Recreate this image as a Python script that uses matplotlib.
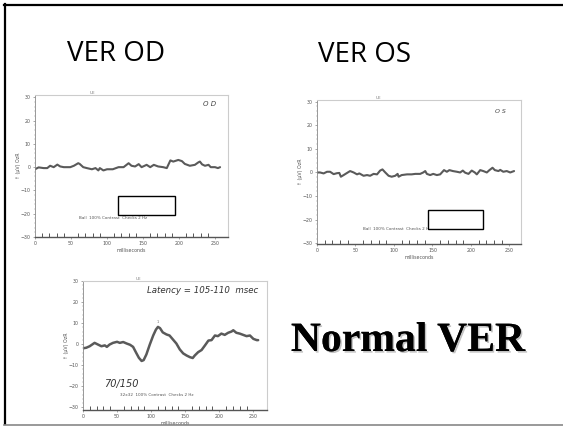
import matplotlib
matplotlib.use("Agg")
import matplotlib.pyplot as plt
from matplotlib.patches import Rectangle
from matplotlib.lines import Line2D
import matplotlib.patheffects as pe
import numpy as np

W, H = 563, 426

# VER OD trace (ms, uV)
od_t = [0, 5, 12, 17, 21, 26, 31, 35, 40, 44, 49, 54, 60, 62, 67, 72, 79, 84, 88, 90, 95, 100,
        108, 116, 123, 130, 134, 139, 144, 148, 155, 160, 165, 171, 178, 183, 188, 192, 199,
        204, 208, 215, 222, 227, 229, 232, 236, 241, 244, 250, 254, 257]
od_v = [-0.9, -0.1, -0.4, -0.4, 0.6, 0.0, 1.1, 0.3, 0.0, 0.0, 0.0, 0.6, 1.7, 1.4, 0.0, -0.4,
        -0.9, -0.4, -1.4, -0.4, -1.4, -0.9, -0.9, 0.0, 0.0, 1.7, 0.6, 0.3, 1.3, 0.0, 1.0, 0.0,
        1.0, 0.3, 0.0, -0.4, 2.9, 2.4, 3.1, 2.6, 1.4, 0.6, 1.0, 2.1, 2.4, 1.2, 0.6, 1.0, 0.0,
        0.0, -0.4, 0.0]

# VER OS trace
os_t = [0, 4, 8.6, 13, 17, 21.6, 26, 29, 31, 34.6, 40, 43, 47.6, 52, 55, 60.5, 65, 69, 73.5,
        78, 82, 85, 88.7, 93, 97, 101.6, 104.7, 106, 110, 117, 123, 127.6, 134, 138, 140.6,
        142.7, 147, 151, 155.7, 160, 165, 168.7, 172, 176.5, 181.7, 186, 189.4, 192.5, 196.8,
        201, 205, 207.6, 212, 216, 220.6, 224, 228, 231, 235.7, 238, 242, 246.5, 251, 256]
os_v = [0.0, 0.0, -0.4, 0.3, 0.3, -0.7, -0.3, -0.2, -1.8, -1.1, 0.0, 0.6, 0.0, -0.8, -0.4,
        -1.4, -1.1, -1.4, -0.6, -0.8, 0.8, 1.3, 0.0, -1.4, -1.8, -1.4, -0.6, -1.8, -1.1, -0.8,
        -0.8, -0.6, -0.6, 0.0, 0.6, -0.6, -1.1, -0.6, -1.1, -0.8, 1.0, 0.3, 1.0, 0.6, 0.3, 0.0,
        0.8, -0.1, -0.6, 0.8, 0.0, -0.8, 1.0, 0.6, 0.0, 1.0, 2.0, 1.0, 0.6, 1.1, 0.3, 0.6, 0.0,
        0.6]

# normal VER trace
nv_t = [0, 4.9, 9.8, 17, 22, 27, 32, 35, 39, 44, 50, 54, 59, 64, 69, 73.5, 78, 82, 86, 89,
        93, 98, 103, 107, 110, 113, 117, 122.5, 127, 132, 137, 142, 147, 152, 157, 161, 164,
        169, 174, 179, 184, 188.6, 193.6, 198, 203, 208, 213, 218, 220.5, 225, 230, 235, 240,
        245, 250, 255, 257]
nv_v = [-2.0, -1.7, -1.0, 0.6, -0.2, -1.0, -0.6, -1.3, -0.2, 0.6, 1.1, 0.6, 1.0, 0.3, -0.3,
        -1.3, -4.1, -6.5, -8.0, -7.6, -4.9, -0.2, 4.1, 6.9, 8.2, 7.6, 5.6, 4.6, 4.1, 2.2, 0.3,
        -2.5, -4.4, -5.4, -6.2, -6.6, -5.4, -3.8, -2.8, -0.6, 1.7, 1.9, 4.1, 3.8, 5.0, 4.4, 5.4,
        6.0, 6.6, 5.4, 5.0, 4.4, 3.8, 4.1, 2.5, 1.9, 1.9]

x_ticks = [0, 50, 100, 150, 200, 250]
y_ticks = [-30, -20, -10, 0, 10, 20, 30]

fig = plt.figure(figsize=(W / 100, H / 100), dpi=100)
fig.patch.set_facecolor("white")


def add_ax(left, top, right, bottom):
    return fig.add_axes([left / W, 1 - bottom / H, (right - left) / W, (bottom - top) / H])


def scan_chart(ax, t, v, xmax, ylim, stim, lw=1.5):
    ax.plot(t, v, color="#5a5a5a", lw=lw, solid_capstyle="round", solid_joinstyle="round")
    ax.set_xlim(0, xmax)
    ax.set_ylim(*ylim)
    ax.set_xticks(x_ticks)
    ax.set_yticks(y_ticks)
    ax.set_xticks(np.arange(0, 260, 10), minor=True)
    ax.set_yticks(np.arange(-30, 31, 2), minor=True)
    ax.tick_params(labelsize=3.4, labelcolor="#555555", length=1.5, width=0.4, pad=1.5, color="#666666")
    ax.tick_params(axis="x", which="minor", direction="in", length=3, width=0.7, color="#555555")
    ax.tick_params(axis="y", which="minor", direction="out", length=1, width=0.3, color="#888888")
    ax.spines["left"].set_color("#888888")
    ax.spines["left"].set_linewidth(0.6)
    ax.spines["bottom"].set_color("#555555")
    ax.spines["bottom"].set_linewidth(1.0)
    for s in ["top", "right"]:
        ax.spines[s].set_color("#cccccc")
        ax.spines[s].set_linewidth(0.8)
    ax.set_xlabel("milliseconds", fontsize=3.4, color="#555555", labelpad=1)
    ax.set_ylabel("↑ (μV) OzR", fontsize=3.4, color="#555555", labelpad=0)
    ax.text(0.3, 1.01, "UE", transform=ax.transAxes, fontsize=3, color="#777777", ha="center")
    ax.text(0.43, -24, stim, fontsize=3, color="#555555", ha="center", va="center")


# VER OD
ax1 = add_ax(35, 95, 228, 237)
scan_chart(ax1, od_t, od_v, 268, (-30, 31), "Ball  100% Contrast  Checks 2 Hz")
ax1.texts[-1].set_position((108, -22))
ax1.text(243, 27, "O D", fontsize=5, color="#444444", ha="center", va="center", style="italic")
ax1.add_patch(Rectangle((115, -20.4), 79, 8.1, facecolor="white", edgecolor="black", lw=1, zorder=5))

# VER OS
ax2 = add_ax(317, 100, 521, 244)
scan_chart(ax2, os_t, os_v, 265, (-30.3, 30.7), "Ball  100% Contrast  Checks 2 Hz")
ax2.texts[-1].set_position((104, -24))
ax2.text(238, 26, "O S", fontsize=4.5, color="#444444", ha="center", va="center", style="italic")
ax2.add_patch(Rectangle((143.6, -24), 72.4, 8.1, facecolor="white", edgecolor="black", lw=1, zorder=5))

# normal VER
ax3 = add_ax(83, 281, 267, 410)
scan_chart(ax3, nv_t, nv_v, 270, (-31.3, 30), "32x32  100% Contrast  Checks 2 Hz", lw=1.8)
ax3.texts[-1].set_position((108, -24))
ax3.text(176, 25.6, "Latency = 105-110  msec", fontsize=6.2, color="#333333", ha="center", va="center", style="italic")
ax3.text(56, -19, "70/150", fontsize=7, color="#333333", ha="center", va="center", style="italic")
ax3.text(110, 9.5, "1", fontsize=2.5, color="#666666", ha="center", va="bottom")

# slide titles
fig.text(116 / W, 1 - 54 / H, "VER OD", fontsize=20, family="Open Sans", ha="center", va="center")
fig.text(364 / W, 1 - 55 / H, "VER OS", fontsize=20, family="Open Sans", ha="center", va="center")
fig.text(408 / W, 1 - 341 / H, "Normal VER", fontsize=30, family="Liberation Serif", weight="bold",
         ha="center", va="center",
         path_effects=[pe.withSimplePatchShadow(offset=(1.2, -1.2), shadow_rgbFace="#aaaaaa", alpha=0.7),
                       pe.Normal()])

# slide frame
fig.add_artist(Line2D([5 / W, 5 / W], [1 - 424 / H, 1 - 4 / H], color="black", lw=1.6, transform=fig.transFigure))
fig.add_artist(Line2D([4 / W, 1], [1 - 5 / H, 1 - 5 / H], color="black", lw=1.6, transform=fig.transFigure))
fig.add_artist(Line2D([4 / W, 1], [1 - 424.5 / H, 1 - 424.5 / H], color="#888888", lw=1.2, transform=fig.transFigure))

fig.savefig("out.png", dpi=100, facecolor="white")
